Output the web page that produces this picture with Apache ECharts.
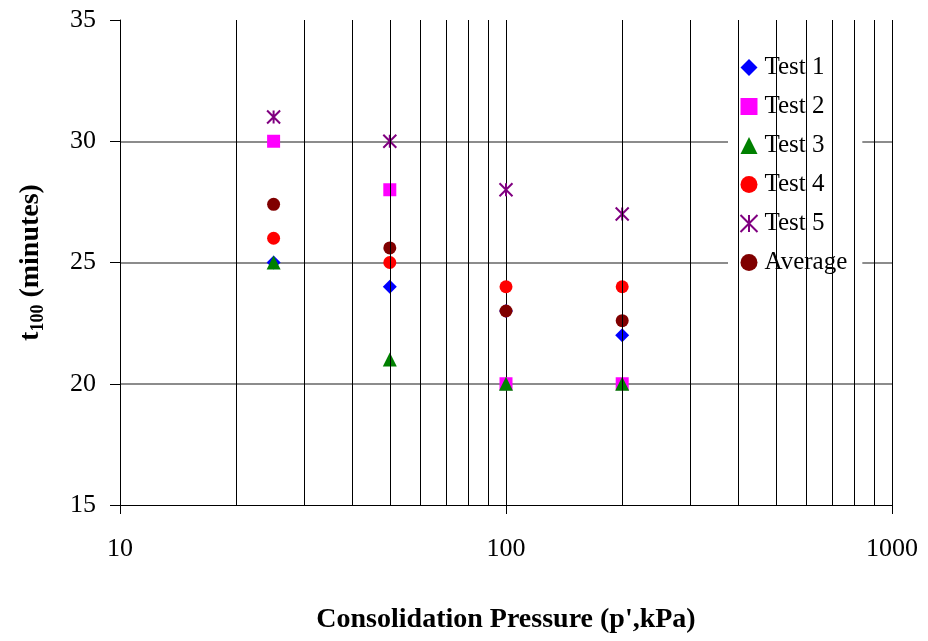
<!DOCTYPE html>
<html><head><meta charset="utf-8">
<script src="https://cdn.jsdelivr.net/npm/echarts@6/dist/echarts.min.js"></script>
<style>html,body{margin:0;padding:0;background:#fff}#c{width:928px;height:641px}</style>
</head><body><div id="c"></div>
<script>
const pressures = [25, 50, 100, 200];
const test1 = [25, 24, 23, 22];
const test2 = [30, 28, 20, 20];
const test3 = [25, 21, 20, 20];
const test4 = [26, 25, 24, 24];
const test5 = [31, 30, 28, 27];
const average = [27.4, 25.6, 23, 22.6];
const minorGrid = [20, 30, 40, 50, 60, 70, 80, 90, 200, 300, 400, 500, 600, 700, 800, 900];
const xTicks = [10, 100, 1000];
const yTicks = [15, 20, 25, 30, 35];

const font = '"Liberation Serif", "DejaVu Serif", serif';
const star = 'path://M0,0 L10,10 M10,0 L0,10 M5,0 L5,10';
function pts(arr){ return pressures.map((p,i)=>[p, arr[i]]); }
function sc(name, data, symbol, size, color, extra){
  return Object.assign({
    name, type:'scatter', data:pts(data), symbol, symbolSize:size,
    itemStyle:{color, opacity:1}, z:3
  }, extra||{});
}
const chart = echarts.init(document.getElementById('c'));
chart.setOption({
  animation:false,
  textStyle:{fontFamily:font},
  grid:{left:120, right:36, top:20, bottom:136, containLabel:false},
  xAxis:{
    type:'log', logBase:10, min:10, max:1000,
    axisLine:{show:true, lineStyle:{color:'#000', width:1}},
    axisTick:{show:true, length:9, lineStyle:{color:'#000'}},
    axisLabel:{color:'#000', fontSize:26, fontFamily:font, margin:31,
      formatter:v=>String(Math.round(v))},
    splitLine:{show:true, lineStyle:{color:'#000', width:1}},
    name:"Consolidation Pressure (p',kPa)", nameLocation:'middle', nameGap:101,
    nameTextStyle:{color:'#000', fontSize:28, fontWeight:'bold', fontFamily:font}
  },
  yAxis:{
    type:'value', min:15, max:35, interval:5,
    axisLine:{show:true, lineStyle:{color:'#000', width:1}},
    axisTick:{show:true, length:10, lineStyle:{color:'#000'}},
    axisLabel:{color:'#000', fontSize:26, fontFamily:font, margin:24},
    splitLine:{show:true, showMinLine:false, showMaxLine:false, lineStyle:{color:'#666', width:1.5}},
    name:'{a|t}{s|100}{a| (minutes)}', nameLocation:'middle', nameGap:73, nameRotate:90,
    nameTextStyle:{color:'#000', fontFamily:font, rich:{
      a:{fontSize:28, fontWeight:'bold', fontFamily:font, color:'#000'},
      s:{fontSize:18, fontWeight:'bold', fontFamily:font, color:'#000', verticalAlign:'bottom', padding:[14,0,0,0]}
    }}
  },
  legend:{
    orient:'vertical', left:728, top:46, itemGap:14, itemWidth:17, itemHeight:17,
    backgroundColor:'#fff', padding:[9,15,11,10],
    textStyle:{fontSize:25, fontFamily:font, color:'#000', padding:[0,0,0,2]},
    data:['Test 1','Test 2','Test 3','Test 4','Test 5','Average']
  },
  series:[
    {type:'scatter', data:[], silent:true, z:1,
      markLine:{silent:true, symbol:'none', label:{show:false},
        lineStyle:{color:'#000', width:1, type:'solid'},
        data:minorGrid.map(v=>({xAxis:v}))}},
    sc('Test 1', test1, 'diamond', 14, '#0000FF'),
    sc('Test 2', test2, 'rect', 13, '#FF00FF'),
    sc('Test 3', test3, 'triangle', 14, '#008000'),
    sc('Test 4', test4, 'circle', 13, '#FF0000'),
    sc('Test 5', test5, star, 13, '#800080', {itemStyle:{color:'none', borderColor:'#800080', borderWidth:2, opacity:1}}),
    sc('Average', average, 'circle', 13, '#800000')
  ]
});
</script></body></html>
